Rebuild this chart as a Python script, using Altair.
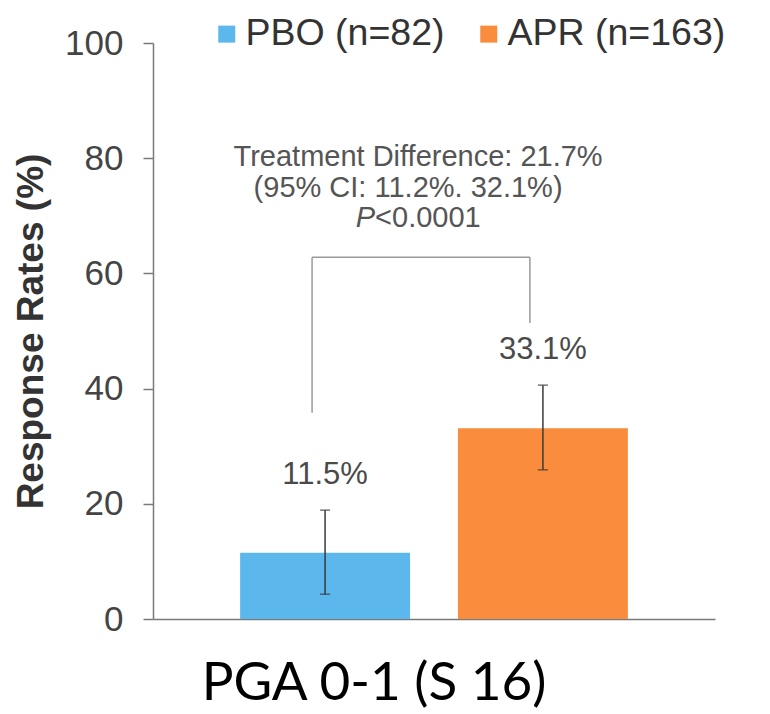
import altair as alt
import pandas as pd

# ---- data ----
groups = ["PBO (n=82)", "APR (n=163)"]
rates = [11.5, 33.1]
ci_low = [4.3, 25.9]
ci_high = [18.9, 40.6]
rate_labels = ["11.5%", "33.1%"]
bar_colors = ["#5BB7EC", "#F98D3D"]

bracket_top = 62.8
bracket_bottom = [35.8, 51.4]

annot_line1 = "Treatment Difference: 21.7%"
annot_line2 = "(95% CI: 11.2%. 32.1%)"
annot_p = "P"
annot_pval = "<0.0001"

y_ticks = [0, 20, 40, 60, 80, 100]

FONT = "Liberation Sans"

df = pd.DataFrame({
    "group": groups,
    "rate": rates,
    "lo": ci_low,
    "hi": ci_high,
    "label": rate_labels,
    "bb": bracket_bottom,
    "bt": [bracket_top] * len(groups),
})
bracket_h = pd.DataFrame({"g1": [groups[0]], "g2": [groups[1]], "bt": [bracket_top]})

x_scale = alt.Scale(domain=groups, paddingInner=0.22, paddingOuter=0.4)
y_scale = alt.Scale(domain=[0, 100], nice=False)

x_enc = alt.X("group:N", scale=x_scale, sort=groups,
              axis=alt.Axis(labels=False, ticks=False, title=None,
                            domainColor="#7a7a7a", domainWidth=1.5))
y_axis = alt.Axis(values=y_ticks, grid=False, title="Response Rates (%)",
                  titleFont=FONT, titleFontSize=37, titleFontWeight="bold",
                  titleColor="#333333", titlePadding=14,
                  labelFont=FONT, labelFontSize=35, labelColor="#444444",
                  labelPadding=20, tickSize=10, tickColor="#7a7a7a",
                  domainColor="#7a7a7a", domainWidth=1.5, tickWidth=1.5)

base = alt.Chart(df)

bars = base.mark_bar().encode(
    x=x_enc,
    y=alt.Y("rate:Q", scale=y_scale, axis=y_axis),
    color=alt.Color("group:N", sort=groups,
                    scale=alt.Scale(domain=groups, range=bar_colors),
                    legend=alt.Legend(title=None, orient="none", direction="horizontal",
                                      legendX=55, legendY=-28, padding=0,
                                      symbolType="square", symbolSize=289,
                                      symbolStrokeWidth=0, labelOffset=0,
                                      columnPadding=25, labelFont=FONT,
                                      labelFontSize=37.5, labelColor="#333333",
                                      labelLimit=400)),
)

err = base.mark_rule(color="#3a3a3a", strokeWidth=1.5).encode(
    x=alt.X("group:N", scale=x_scale, sort=groups),
    y="lo:Q", y2="hi:Q")
cap_lo = base.mark_tick(color="#3a3a3a", thickness=1.5, size=10, orient="horizontal").encode(
    x=alt.X("group:N", scale=x_scale, sort=groups), y="lo:Q")
cap_hi = base.mark_tick(color="#3a3a3a", thickness=1.5, size=10, orient="horizontal").encode(
    x=alt.X("group:N", scale=x_scale, sort=groups), y="hi:Q")

labels = base.mark_text(font=FONT, fontSize=31, color="#4a4a4a",
                        baseline="alphabetic", dy=-26).encode(
    x=alt.X("group:N", scale=x_scale, sort=groups), y="hi:Q", text="label:N")

bracket_v = base.mark_rule(color="#9a9a9a", strokeWidth=1.5, xOffset=-13).encode(
    x=alt.X("group:N", scale=x_scale, sort=groups), y="bb:Q", y2="bt:Q")
bracket_hz = alt.Chart(bracket_h).mark_rule(color="#9a9a9a", strokeWidth=1.5,
                                             xOffset=-13, x2Offset=-13).encode(
    x=alt.X("g1:N", scale=x_scale, sort=groups), x2="g2:N", y="bt:Q")

annot_base = alt.Chart(bracket_h)
t1 = annot_base.mark_text(font=FONT, fontSize=29, color="#555555", baseline="middle",
                          align="center", dx=93, dy=-100).encode(
    x=alt.X("g1:N", scale=x_scale, sort=groups), y="bt:Q", text=alt.value(annot_line1))
t2 = annot_base.mark_text(font=FONT, fontSize=29, color="#555555", baseline="middle",
                          align="center", dx=83, dy=-69).encode(
    x=alt.X("g1:N", scale=x_scale, sort=groups), y="bt:Q", text=alt.value(annot_line2))
t3a = annot_base.mark_text(font=FONT, fontSize=29, color="#555555", baseline="middle",
                           align="right", fontStyle="italic", dx=50, dy=-39).encode(
    x=alt.X("g1:N", scale=x_scale, sort=groups), y="bt:Q", text=alt.value(annot_p))
t3b = annot_base.mark_text(font=FONT, fontSize=29, color="#555555", baseline="middle",
                           align="left", dx=50, dy=-39).encode(
    x=alt.X("g1:N", scale=x_scale, sort=groups), y="bt:Q", text=alt.value(annot_pval))

chart = alt.layer(bars, err, cap_lo, cap_hi, labels, bracket_v, bracket_hz,
                  t1, t2, t3a, t3b).properties(
    width=562, height=576,
    background="white",
    autosize=alt.AutoSizeParams(type="none"),
    padding={"left": 145, "top": 35, "right": 40, "bottom": 91},
    title=alt.TitleParams("PGA 0-1 (S 16)", orient="bottom", anchor="middle",
                          font="Lato", fontSize=53, fontWeight="normal",
                          color="#000000", offset=21, dx=-60),
).configure_view(strokeWidth=0)

chart.save("out.html", embed_options={"renderer": "svg", "actions": False})
